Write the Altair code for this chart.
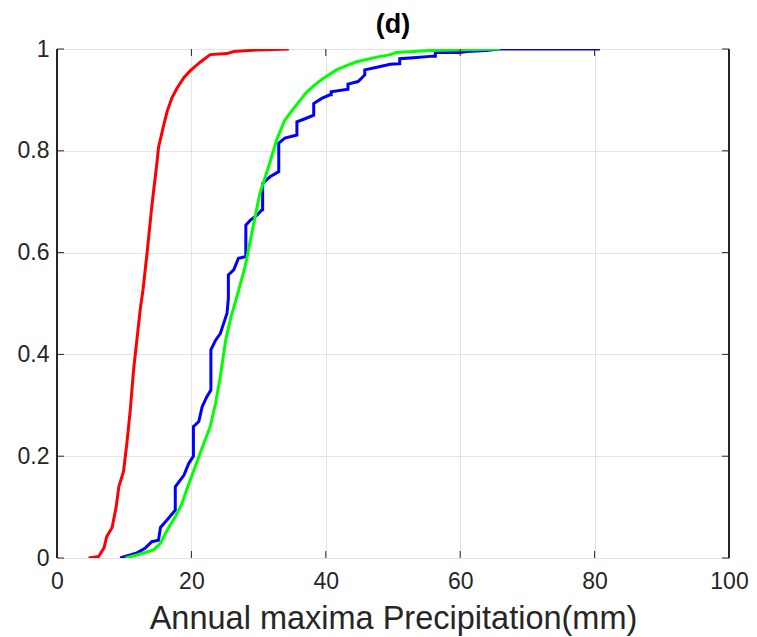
import altair as alt
import pandas as pd

# ---- data ----
red_x = [4.7, 6.2, 7.0, 7.4, 8.2, 8.8, 9.2, 9.9, 10.4, 10.9, 11.4, 11.9, 12.4, 12.8, 13.4, 14.1, 14.9, 15.1,
         15.8, 16.4, 17.1, 17.9, 18.9, 19.8, 21.3, 22.8, 25.3, 26.3, 29.8, 34.5]
red_y = [0.0, 0.003, 0.02, 0.042, 0.06, 0.1, 0.14, 0.17, 0.226, 0.29, 0.37, 0.43, 0.49, 0.527, 0.599, 0.69, 0.78, 0.806,
         0.846, 0.878, 0.904, 0.924, 0.944, 0.957, 0.974, 0.989, 0.991, 0.995, 0.998, 1.0]

green_x = [10.2, 11.9, 14.4, 15.4, 16.4, 17.6, 18.6, 19.3, 20.3, 21.3, 22.8, 23.6, 24.3, 25.1, 25.9, 26.7,
           28.0, 29.2, 30.2, 31.5, 32.7, 33.9, 35.2, 37.2, 38.5, 39.6, 41.6, 43.0, 44.6, 47.6, 49.6, 50.5, 55.5, 65.9]
green_y = [0.0, 0.006, 0.016, 0.029, 0.055, 0.081, 0.107, 0.134, 0.17, 0.206, 0.258, 0.304, 0.356, 0.428, 0.474, 0.51,
           0.573, 0.652, 0.717, 0.769, 0.822, 0.86, 0.883, 0.916, 0.931, 0.942, 0.959, 0.967, 0.975, 0.984, 0.989, 0.993, 0.997, 1.0]

blue_x = [9.4, 11.9, 13.1, 14.1, 15.1, 15.4, 16.4, 17.6, 17.6, 18.9, 19.6, 20.3, 20.3, 21.1, 21.6, 22.3,
          22.9, 22.9, 23.6, 24.3, 24.8, 25.3, 25.5, 25.5, 26.3, 27.0, 28.0, 28.1, 28.1, 28.8, 29.8, 30.5,
          30.6, 30.6, 31.7, 33.0, 33.0, 33.9, 35.7, 35.7, 36.9, 38.2, 38.2, 39.4, 40.6, 40.8, 40.8, 43.3,
          43.3, 44.8, 45.8, 45.8, 47.6, 49.6, 50.8, 51.0, 51.0, 53.0, 56.0, 56.3, 56.3, 60.0, 61.0, 63.8,
          65.9, 80.8]
blue_y = [0.0, 0.01, 0.019, 0.032, 0.035, 0.06, 0.075, 0.094, 0.14, 0.163, 0.186, 0.2, 0.258, 0.268, 0.297, 0.317,
          0.33, 0.409, 0.428, 0.441, 0.461, 0.481, 0.51, 0.556, 0.566, 0.589, 0.592, 0.592, 0.654, 0.664, 0.674, 0.684,
          0.684, 0.736, 0.749, 0.759, 0.815, 0.825, 0.831, 0.857, 0.863, 0.87, 0.893, 0.903, 0.91, 0.91, 0.916, 0.921,
          0.931, 0.936, 0.949, 0.959, 0.964, 0.97, 0.971, 0.971, 0.981, 0.983, 0.986, 0.986, 0.993, 0.993, 0.995, 0.997,
          1.0, 1.0]

x_ticks = [0, 20, 40, 60, 80, 100]
y_ticks = [0, 0.2, 0.4, 0.6, 0.8, 1]

title_text = "(d)"
x_title = "Annual maxima Precipitation(mm)"

series = [("red", red_x, red_y, "#ff0000"),
          ("blue", blue_x, blue_y, "#0000ff"),
          ("green", green_x, green_y, "#00ff00")]

rows = []
for name, xs_, ys_, _ in series:
    for i, (a, b) in enumerate(zip(xs_, ys_)):
        rows.append({"series": name, "x": a, "y": b, "i": i})
df = pd.DataFrame(rows)

W, H = 672, 509
FONT = "Liberation Sans"
TXT = "#262626"

xs = alt.Scale(domain=[0, 100], nice=False)
ys = alt.Scale(domain=[0, 1], nice=False)

lines = alt.Chart(df).mark_line(strokeWidth=3, clip=True).encode(
    x=alt.X("x:Q", scale=xs,
            axis=alt.Axis(values=x_ticks, title=x_title, grid=True, gridColor="#e3e3e3",
                          domain=False, ticks=False, labelPadding=12, labelFontSize=23,
                          labelFlush=False, labelOverlap=False,
                          labelColor=TXT, titleFontSize=32.5, titleFontWeight="normal",
                          titleColor=TXT, titlePadding=9, labelFont=FONT, titleFont=FONT)),
    y=alt.Y("y:Q", scale=ys,
            axis=alt.Axis(values=y_ticks, title=None, grid=True, gridColor="#e3e3e3",
                          domain=False, ticks=False, labelPadding=8, labelFontSize=23,
                          labelFlush=False, labelOverlap=False,
                          labelColor=TXT, labelFont=FONT, labelExpr="datum.value")),
    color=alt.Color("series:N",
                    scale=alt.Scale(domain=[s[0] for s in series], range=[s[3] for s in series]),
                    legend=None),
    detail="series:N",
    order="i:Q",
)

xt = pd.DataFrame({"v": x_ticks})
yt = pd.DataFrame({"v": y_ticks})
xtick_bot = alt.Chart(xt).mark_rule(color=TXT, strokeWidth=1).encode(
    x=alt.X("v:Q", scale=xs), y=alt.value(H), y2=alt.value(H - 7))
xtick_top = alt.Chart(xt).mark_rule(color=TXT, strokeWidth=1).encode(
    x=alt.X("v:Q", scale=xs), y=alt.value(0), y2=alt.value(7))
ytick_l = alt.Chart(yt).mark_rule(color=TXT, strokeWidth=1).encode(
    y=alt.Y("v:Q", scale=ys), x=alt.value(0), x2=alt.value(7))
ytick_r = alt.Chart(yt).mark_rule(color=TXT, strokeWidth=1).encode(
    y=alt.Y("v:Q", scale=ys), x=alt.value(W), x2=alt.value(W - 7))
left_dom = alt.Chart(yt).mark_rule(color=TXT, strokeWidth=1.2).encode(
    x=alt.value(0), y=alt.value(0), y2=alt.value(H))
right_dom = alt.Chart(yt).mark_rule(color=TXT, strokeWidth=1.2).encode(
    x=alt.value(W), y=alt.value(0), y2=alt.value(H))

chart = alt.layer(lines, xtick_bot, xtick_top, ytick_l, ytick_r, left_dom, right_dom).properties(
    width=W, height=H,
    title=alt.TitleParams(title_text, fontSize=27, fontWeight="bold", font=FONT,
                          color="#000000", offset=-1, anchor="middle"),
    autosize=alt.AutoSizeParams(type="none"),
    padding={"left": 57, "top": 49, "right": 28, "bottom": 79},
).configure_view(stroke="#808080", strokeWidth=1.5).configure(background="white")

chart.save("out.html", embed_options={"renderer": "svg", "actions": False})
